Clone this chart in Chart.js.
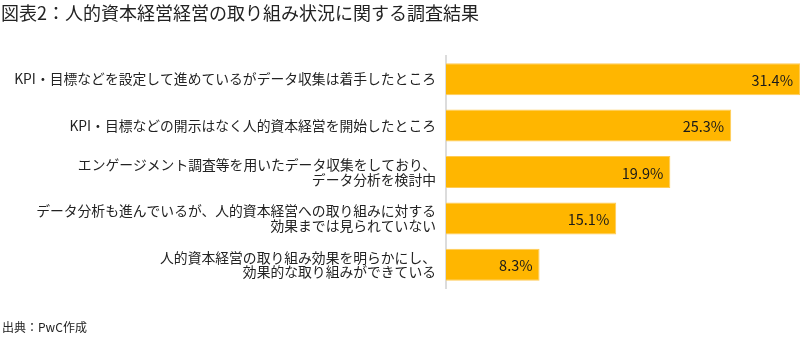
<!DOCTYPE html>
<html lang="ja">
<head>
<meta charset="utf-8">
<script src="https://cdn.jsdelivr.net/npm/chart.js@4"></script>
<style>
  html, body { margin: 0; padding: 0; background: #fff; }
  #wrap { position: relative; width: 800px; height: 343px; overflow: hidden; }
  #title { position: absolute; left: 1px; top: 1px; font-family: "Noto Sans CJK JP", sans-serif; font-size: 18px; line-height: 22px; color: #222; white-space: nowrap; }
  #source { position: absolute; left: 2px; top: 319px; font-family: "Noto Sans CJK JP", sans-serif; font-size: 12px; line-height: 16px; color: #222; white-space: nowrap; }
  canvas { position: absolute; left: 0; top: 0; }
</style>
</head>
<body>
<div id="wrap">
  <canvas id="c" width="800" height="343"></canvas>
  <div id="title">図表2：人的資本経営経営の取り組み状況に関する調査結果</div>
  <div id="source">出典：PwC作成</div>
</div>
<script>
const categories = [
  ["KPI・目標などを設定して進めているがデータ収集は着手したところ"],
  ["KPI・目標などの開示はなく人的資本経営を開始したところ"],
  ["エンゲージメント調査等を用いたデータ収集をしており、", "データ分析を検討中"],
  ["データ分析も進んでいるが、人的資本経営への取り組みに対する", "効果までは見られていない"],
  ["人的資本経営の取り組み効果を明らかにし、", "効果的な取り組みができている"]
];
const values = [31.4, 25.3, 19.9, 15.1, 8.3];
const xMin = 0;
const xMax = 31.4;

const valueLabels = {
  id: 'valueLabels',
  afterDatasetsDraw(chart) {
    const ctx = chart.ctx;
    const meta = chart.getDatasetMeta(0);
    ctx.save();
    ctx.font = '14.5px "Noto Sans CJK JP", sans-serif';
    ctx.fillStyle = '#1a1a1a';
    ctx.textAlign = 'right';
    ctx.textBaseline = 'middle';
    meta.data.forEach((bar, i) => {
      ctx.fillText(values[i].toFixed(1) + '%', bar.x - 7, bar.y + 1);
    });
    ctx.restore();
  }
};

new Chart(document.getElementById('c'), {
  type: 'bar',
  data: {
    labels: categories,
    datasets: [{
      data: values,
      backgroundColor: '#FFB600',
      borderColor: '#FFCB55',
      borderWidth: 1,
      borderSkipped: 'left',
      categoryPercentage: 0.69,
      barPercentage: 1.0
    }]
  },
  options: {
    indexAxis: 'y',
    responsive: false,
    animation: false,
    layout: { padding: { top: 56, bottom: 55, left: 0, right: 0 } },
    plugins: { legend: { display: false }, tooltip: { enabled: false } },
    scales: {
      x: {
        min: xMin, max: xMax,
        display: false,
        grid: { display: false }
      },
      y: {
        afterFit(scale) { scale.width = 446; },
        grid: { display: false, drawTicks: false },
        border: { display: true, color: '#dcdcdc', width: 2 },
        ticks: {
          padding: 10,
          color: '#222',
          font: { family: '"Noto Sans CJK JP", sans-serif', size: 13.8, lineHeight: 1.07 }
        }
      }
    }
  },
  plugins: [valueLabels]
});
</script>
</body>
</html>
